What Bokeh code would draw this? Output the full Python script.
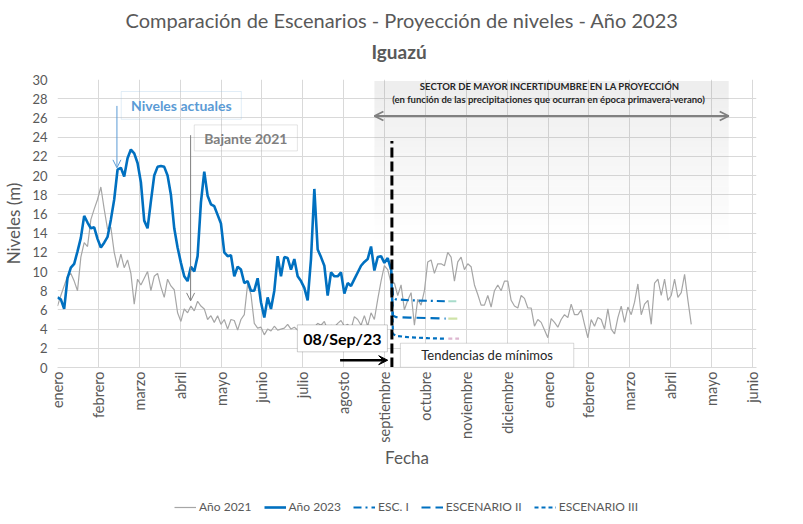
from bokeh.plotting import figure
from bokeh.layouts import column
from bokeh.models import (Range1d, FixedTicker, Legend, LegendItem, Label,
                          BoxAnnotation, Arrow, OpenHead, VeeHead, Title)
from bokeh.embed import file_html
from bokeh.resources import INLINE

# ---------------- datos ----------------
MESES = ["enero", "febrero", "marzo", "abril", "mayo", "junio", "julio", "agosto",
         "septiembre", "octubre", "noviembre", "diciembre", "enero", "febrero",
         "marzo", "abril", "mayo", "junio"]

DIAS_MES = 30.4375      # longitud media de un mes (días)
PASO_DIAS = 2.4837      # intervalo entre lecturas (días)

NIVEL_2021 = [
    6.4, 7.5, 8.5, 9.5, 9.8, 9.0, 8.0, 11.5, 13.0, 12.6,
    15.4, 16.5, 17.5, 18.8, 16.5, 14.4, 14.6, 12.0, 10.4, 11.8,
    10.4, 11.2, 9.8, 6.6, 9.2, 8.6, 9.3, 10.0, 8.0, 9.5,
    9.8, 8.4, 7.3, 9.2, 8.5, 8.1, 5.7, 4.8, 6.1, 5.7,
    6.4, 5.9, 6.9, 6.4, 6.1, 5.0, 5.4, 4.7, 5.4, 4.5,
    5.0, 4.0, 5.0, 4.9, 3.9, 5.0, 5.5, 8.7, 7.6, 4.6,
    4.1, 4.2, 3.4, 4.0, 3.8, 4.3, 3.9, 4.0, 4.1, 4.5,
    4.0, 4.2, 3.9, 4.0, 4.1, 4.0, 3.9, 4.2, 4.6, 4.4,
    4.8, 3.9, 4.4, 4.2, 4.6, 4.9, 4.3, 4.5, 4.0, 5.3,
    5.0, 4.4, 5.4, 4.3, 5.7, 5.0, 7.1, 9.0, 10.6, 10.2,
    8.8, 8.8, 7.5, 8.6, 6.0, 7.0, 7.8, 4.4, 7.1, 6.5,
    8.0, 11.0, 11.2, 9.8, 10.8, 10.8, 10.6, 12.0, 11.5, 9.0,
    11.0, 11.5, 10.2, 10.8, 10.5, 8.6, 7.6, 6.5, 6.5, 7.5,
    6.3, 8.0, 8.6, 8.0, 9.0, 9.0, 7.0, 6.4, 6.2, 7.5,
    7.2, 6.2, 6.2, 4.3, 5.0, 4.7, 3.9, 3.1, 5.1, 4.7,
    4.2, 5.0, 5.5, 5.2, 6.6, 5.5, 5.5, 6.0, 4.5, 3.1,
    5.0, 4.3, 5.2, 5.0, 4.0, 6.1, 4.0, 3.5, 5.2, 6.4,
    4.7, 6.3, 5.5, 6.8, 8.7, 5.5, 6.6, 7.0, 4.5, 8.8,
    9.2, 7.5, 9.2, 7.0, 7.5, 9.2, 7.3, 7.8, 9.7, 7.0,
    4.5]

NIVEL_2023 = [
    7.3, 7.1, 6.1, 9.3, 10.4, 10.8, 12.1, 13.5, 15.8, 15.1,
    14.5, 14.6, 13.4, 12.5, 13.0, 13.6, 15.4, 17.5, 20.6, 20.8,
    19.9, 21.8, 22.7, 22.3, 21.3, 19.3, 15.3, 14.5, 17.3, 20.0,
    20.9, 21.0, 20.9, 20.0, 18.0, 14.5, 12.5, 10.9, 9.5, 9.0,
    10.5, 10.0, 11.6, 17.2, 20.4, 17.9, 17.0, 16.8, 15.9, 15.0,
    12.0, 11.6, 11.7, 9.5, 10.5, 10.2, 8.8, 9.0, 8.0, 8.0,
    9.3, 6.8, 5.2, 7.3, 6.1, 8.0, 11.6, 9.5, 11.5, 11.4,
    10.2, 11.3, 9.5, 9.0, 8.3, 7.0, 11.3, 18.6, 12.3, 11.5,
    10.6, 7.5, 9.9, 9.5, 9.5, 9.9, 7.7, 8.8, 8.5, 9.2,
    9.9, 10.6, 11.0, 11.3, 12.6, 10.1, 11.5, 11.6, 10.9, 11.4,
    10.2]

FECHA_CORTE = 249.0     # 08/Sep/23 (días desde el 1 de enero)

ESC_DIAS = [248.4, 249.8, 252.0, 262.0, 276.0, 289.0]
ESC_COLA_DIAS = [291.0, 299.0]
ESC_I = [10.2, 7.4, 7.1, 7.0, 6.95, 6.9]
ESC_I_COLA = [6.9, 6.9]
ESC_II = [10.2, 5.4, 5.25, 5.2, 5.15, 5.1]
ESC_II_COLA = [5.1, 5.1]
ESC_III = [10.2, 3.5, 3.3, 3.15, 3.05, 3.0]
ESC_III_COLA = [3.0, 3.0]

Y_TICKS = list(range(0, 31, 2))

SERIES_LEYENDA = ["Año 2021", "Año 2023", "ESC. I", "ESCENARIO II", "ESCENARIO III"]

# ---------------- estilos ----------------
FONT = "Lato"
TXT = "#595959"
AZUL = "#0070C0"
GRIS = "#A6A6A6"
ESTILOS = [dict(line_color=GRIS, line_width=1.2),
           dict(line_color=AZUL, line_width=2.6),
           dict(line_color=AZUL, line_width=2.2, line_dash="8 4 2 4"),
           dict(line_color=AZUL, line_width=2.2, line_dash="9 5"),
           dict(line_color=AZUL, line_width=2.2, line_dash="4 3")]

x21 = [i * PASO_DIAS / DIAS_MES for i in range(len(NIVEL_2021))]
x23 = [i * PASO_DIAS / DIAS_MES for i in range(len(NIVEL_2023))]
xesc = [d / DIAS_MES for d in ESC_DIAS]
xcola = [d / DIAS_MES for d in ESC_COLA_DIAS]
xcorte = FECHA_CORTE / DIAS_MES
SERIES_XY = [(x21, NIVEL_2021), (x23, NIVEL_2023), (xesc, ESC_I),
             (xesc, ESC_II), (xesc, ESC_III)]

p = figure(frame_width=699, frame_height=288, output_backend="svg",
           toolbar_location=None,
           x_range=Range1d(0, 17.1), y_range=Range1d(0, 30),
           min_border_left=50, min_border_right=30, min_border_top=0,
           min_border_bottom=0)
p.outline_line_color = None
p.background_fill_color = "white"
p.border_fill_color = "white"

# ejes
p.xaxis.ticker = FixedTicker(ticks=list(range(len(MESES))))
p.xaxis.major_label_overrides = {i: m for i, m in enumerate(MESES)}
p.xaxis.major_label_orientation = 3.14159265 / 2
p.xaxis.major_label_text_font = FONT
p.xaxis.major_label_text_font_size = "14.5px"
p.xaxis.major_label_text_color = TXT
p.xaxis.major_tick_line_color = None
p.xaxis.major_tick_out = 0
p.xaxis.major_tick_in = 0
p.xaxis.minor_tick_line_color = None
p.xaxis.axis_line_color = "#D9D9D9"
p.xaxis.major_label_standoff = 4
p.xaxis.axis_label = "Fecha"
p.xaxis.axis_label_text_font = FONT
p.xaxis.axis_label_text_font_style = "normal"
p.xaxis.axis_label_text_font_size = "17px"
p.xaxis.axis_label_text_color = TXT
p.xaxis.axis_label_standoff = 1

p.yaxis.ticker = FixedTicker(ticks=Y_TICKS)
p.yaxis.major_label_text_font = FONT
p.yaxis.major_label_text_font_size = "13px"
p.yaxis.major_label_text_color = TXT
p.yaxis.major_tick_line_color = None
p.yaxis.major_tick_out = 0
p.yaxis.major_tick_in = 0
p.yaxis.minor_tick_line_color = None
p.yaxis.axis_line_color = None
p.yaxis.major_label_standoff = 10
p.yaxis.axis_label = "Niveles (m)"
p.yaxis.axis_label_text_font = FONT
p.yaxis.axis_label_text_font_style = "normal"
p.yaxis.axis_label_text_font_size = "17px"
p.yaxis.axis_label_text_color = TXT
p.yaxis.axis_label_standoff = 5

p.xgrid.grid_line_color = "#D9D9D9"
p.ygrid.grid_line_color = "#D9D9D9"
p.xgrid.ticker = p.xaxis.ticker
p.ygrid.ticker = p.yaxis.ticker

# sector sombreado (degradado)
s_left, s_right, s_top, s_bot = 7.753, 16.42, 29.85, 13.4
n = 24
lefts, rights, tops, bots, alphas = [], [], [], [], []
for i in range(n):
    lefts.append(s_left); rights.append(s_right)
    tops.append(s_top - (s_top - s_bot) * i / n)
    bots.append(s_top - (s_top - s_bot) * (i + 1) / n)
    alphas.append(0.15 * (1 - i / n))
p.quad(left=lefts, right=rights, top=tops, bottom=bots, fill_color="#8C8C8C",
       fill_alpha=alphas, line_color=None)

# series
for (xs, ys), est in zip(SERIES_XY, ESTILOS):
    p.line(xs, ys, **est)
p.line(xcola, ESC_I_COLA, line_color="#A8DCCB", line_width=2.2, line_dash="8 4 2 4")
p.line(xcola, ESC_II_COLA, line_color="#CFE3A8", line_width=2.2, line_dash="9 5")
p.line(xcola, ESC_III_COLA, line_color="#DDB6D0", line_width=2.2, line_dash="4 3")

# línea de corte
p.segment(x0=[xcorte], y0=[0], x1=[xcorte], y1=[23.6], line_color="black",
          line_width=3, line_dash="10 4")

# flecha doble del sector
p.add_layout(Arrow(x_start=s_left, y_start=26.2, x_end=s_right, y_end=26.2,
                   line_color="#808080", line_width=1.8,
                   start=OpenHead(size=9, line_color="#808080", line_width=1.8),
                   end=OpenHead(size=9, line_color="#808080", line_width=1.8)))
for txt, yy in [("SECTOR DE MAYOR INCERTIDUMBRE EN LA PROYECCIÓN", 29.27),
                ("(en función de las precipitaciones que ocurran  en época primavera-verano)", 27.88)]:
    p.add_layout(Label(x=12.04, y=yy, text=txt, text_align="center",
                       text_baseline="middle", text_font=FONT, text_font_size="9.5px",
                       text_font_style="bold", text_color="#262626"))

# Niveles actuales
p.add_layout(BoxAnnotation(left=1.559, right=4.497, top=28.75, bottom=25.86,
                           fill_alpha=0, line_color="#9DC3E6", line_width=1))
p.add_layout(Label(x=3.028, y=27.3, text="Niveles actuales", text_align="center",
                   text_baseline="middle", text_font=FONT, text_font_size="14px",
                   text_font_style="bold", text_color="#5B9BD5"))
p.add_layout(Arrow(x_start=1.454, y_start=27.25, x_end=1.454, y_end=20.8,
                   line_color="#5B9BD5", line_width=1,
                   end=OpenHead(size=8, line_color="#5B9BD5", line_width=1)))

# Bajante 2021
p.add_layout(BoxAnnotation(left=3.346, right=5.868, top=25.27, bottom=22.56,
                           fill_alpha=0, line_color="#A6A6A6", line_width=1))
p.add_layout(Label(x=4.607, y=23.9, text="Bajante 2021", text_align="center",
                   text_baseline="middle", text_font=FONT, text_font_size="14px",
                   text_font_style="bold", text_color="#7F7F7F"))
p.add_layout(Arrow(x_start=3.256, y_start=24.2, x_end=3.256, y_end=6.94,
                   line_color="#7F7F7F", line_width=1,
                   end=OpenHead(size=8, line_color="#7F7F7F", line_width=1)))

# 08/Sep/23
p.add_layout(BoxAnnotation(left=5.868, right=8.071, top=4.44, bottom=1.63,
                           fill_color="white", fill_alpha=1, line_color="#595959",
                           line_width=1))
p.add_layout(Label(x=6.97, y=3.03, text="08/Sep/23", text_align="center",
                   text_baseline="middle", text_font=FONT, text_font_size="16px",
                   text_font_style="bold", text_color="black"))
p.add_layout(Arrow(x_start=6.913, y_start=0.76, x_end=8.078, y_end=0.76,
                   line_color="black", line_width=2.5,
                   end=VeeHead(size=9, fill_color="black", line_color="black")))

# Tendencias de mínimos
p.add_layout(BoxAnnotation(left=8.389, right=12.63, top=2.53, bottom=0.02,
                           fill_color="white", fill_alpha=1, line_color="#7F7F7F",
                           line_width=1))
p.add_layout(Label(x=10.51, y=1.28, text="Tendencias de mínimos", text_align="center",
                   text_baseline="middle", text_font=FONT, text_font_size="13px",
                   text_color="#262626"))

# títulos (el primero añadido queda más cerca del gráfico)
p.add_layout(Title(text=" ", text_font_size="1px", standoff=13), "above")
p.add_layout(Title(text="Iguazú", align="left", text_font=FONT,
                   text_font_size="19px", text_font_style="bold",
                   text_color="#595959", standoff=2, offset=314), "above")
p.add_layout(Title(text="Comparación de Escenarios - Proyección de niveles - Año 2023",
                   align="left", text_font=FONT, text_font_size="20px",
                   text_font_style="normal", text_color="#595959", standoff=10,
                   offset=68), "above")

# ---------------- leyenda (figura inferior) ----------------
pl = figure(width=787, height=44, output_backend="svg", toolbar_location=None,
            x_axis_location=None, y_axis_location=None, min_border=0,
            x_range=Range1d(0, 1), y_range=Range1d(0, 1))
pl.grid.visible = False
pl.outline_line_color = None
items = []
for nombre, (xs, ys), est in zip(SERIES_LEYENDA, SERIES_XY, ESTILOS):
    r = pl.line(xs, ys, **est)   # fuera del rango visible: sólo para la leyenda
    items.append(LegendItem(label=nombre, renderers=[r]))
legend = Legend(items=items, orientation="horizontal", location=(117, 0),
                label_text_font=FONT, label_text_font_size="12px",
                label_text_color=TXT, glyph_width=22, glyph_height=14,
                label_height=14, label_standoff=3, spacing=12,
                border_line_color=None, background_fill_alpha=0, margin=0,
                padding=2)
pl.add_layout(legend, "center")

open("out.html", "w").write(file_html(column(p, pl), INLINE))
